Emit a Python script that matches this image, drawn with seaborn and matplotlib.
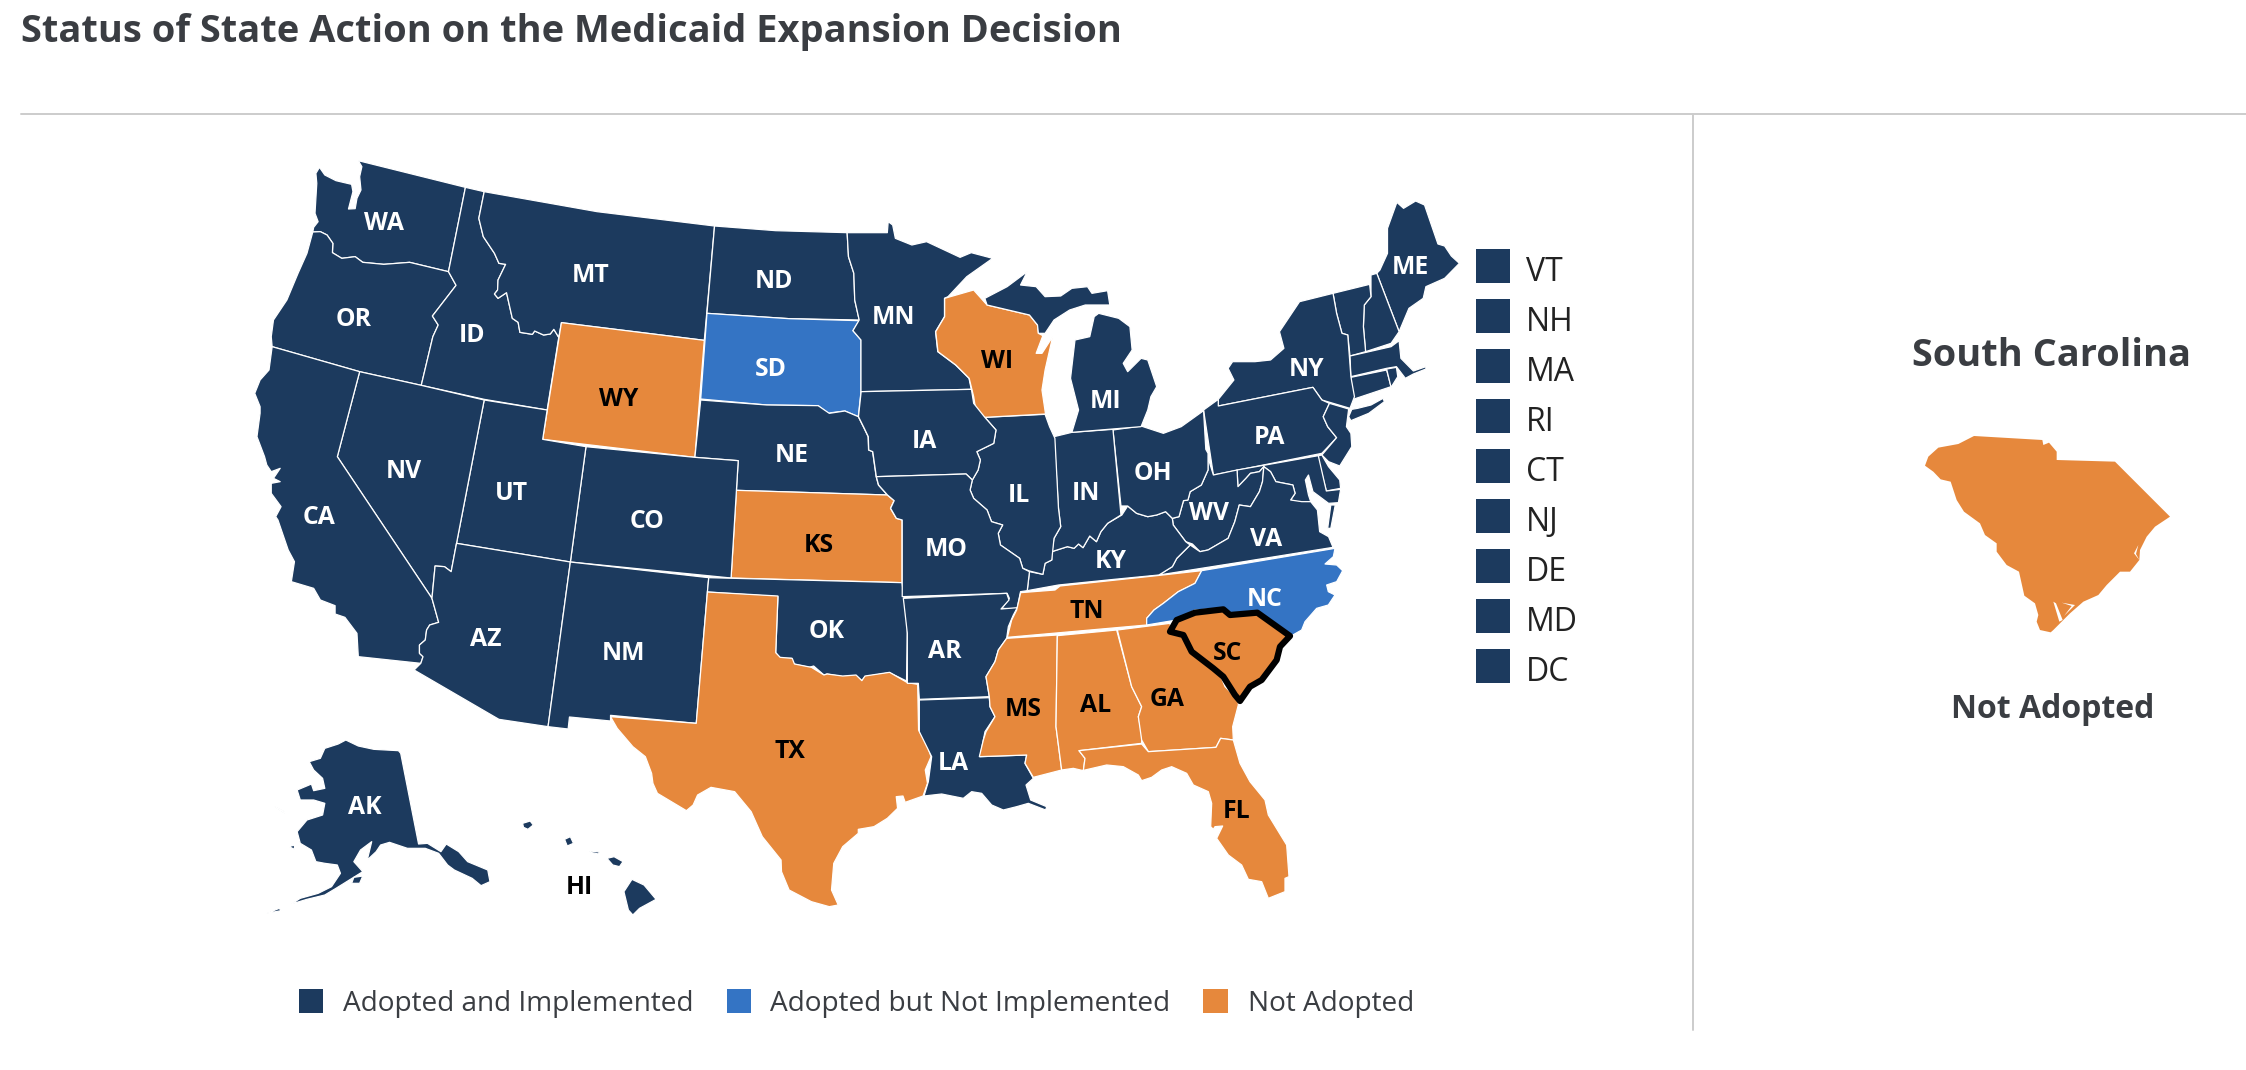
import pandas as pd
import seaborn as sns
import matplotlib.pyplot as plt

# status of each state
not_adopted = ['WY', 'KS', 'TX', 'WI', 'TN', 'MS', 'AL', 'GA', 'SC', 'FL']
not_implemented = ['SD', 'NC']
status_names = ['Adopted and Implemented', 'Adopted but Not Implemented', 'Not Adopted']
status_colors = ['#1c3a5e', '#3474c4', '#e6883c']
small_states = ['VT', 'NH', 'MA', 'RI', 'CT', 'NJ', 'DE', 'MD', 'DC']

# outlines traced by hand, each one in the coordinates of a map region
WA = [(178,112),(190,135),(215,152),(250,163),(253,185),(243,237),(258,236),(262,205),(271,180),(268,140),(273,110),(265,92),(505,172),(467,425),(380,397),(322,403),(275,397),(258,380),(228,385),(207,368),(208,340),(195,315),(180,305),(163,306),(165,292),(175,275),(168,250),(172,160),(170,130)]
OR = [(163,306),(180,305),(195,315),(208,340),(207,368),(228,385),(258,380),(275,397),(322,403),(380,397),(467,425),(484,466),(431,558),(444,585),(432,620),(406,766),(268,725),(72,650),(70,620),(75,570),(105,510),(130,430),(150,370)]
ID = [(505,172),(547,185),(535,265),(545,320),(570,370),(580,400),(595,403),(578,450),(577,480),(570,492),(578,505),(597,488),(610,565),(623,577),(627,607),(655,613),(660,603),(680,615),(695,612),(703,598),(714,622),(688,840),(547,808),(406,766),(432,620),(444,585),(431,558),(484,466),(467,425)]
MT = [(547,185),(800,245),(1063,288),(1040,631),(720,578),(714,622),(703,598),(695,612),(680,615),(660,603),(655,613),(627,607),(623,577),(610,565),(597,488),(578,505),(570,492),(577,480),(578,450),(595,403),(580,400),(570,370),(545,320),(535,265)]
WY = [(720,578),(1040,631),(1019,982),(678,928)]
ND = [(1063,288),(1200,302),(1360,308),(1363,380),(1375,430),(1377,510),(1387,570),(1230,566),(1046,550)]
SD = [(1046,550),(1230,566),(1387,572),(1373,602),(1391,630),(1391,785),(1385,860),(1355,843),(1325,848),(1318,850),(1295,827),(1180,825),(1032,807)]
NE = [(1032,810),(1180,825),(1295,827),(1320,850),(1355,843),(1385,860),(1398,895),(1407,920),(1408,960),(1417,965),(1425,1040),(1430,1065),(1450,1095),(1112,1081),(1116,992),(1019,982)]
KS = [(1112,1081),(1450,1095),(1465,1112),(1457,1135),(1470,1165),(1483,1170),(1483,1358),(1100,1344)]
CO = [(775,950),(1019,982),(1116,992),(1112,1081),(1100,1344),(740,1296)]
UT = [(547,810),(688,840),(678,928),(775,950),(740,1296),(485,1240)]
NV = [(268,725),(406,766),(547,810),(485,1240),(473,1325),(458,1310),(437,1308),(430,1405),(218,980)]
CA = [(72,650),(268,725),(218,980),(430,1405),(445,1477),(425,1485),(418,1500),(415,1530),(402,1545),(402,1570),(410,1580),(405,1600),(265,1580),(262,1510),(235,1462),(213,1452),(213,1427),(180,1410),(165,1375),(115,1355),(122,1295),(108,1260),(85,1170),(80,1160),(92,1130),(70,1090),(70,1060),(90,1055),(75,1045),(90,1015),(70,1025),(60,1005),(55,980),(38,920),(45,850),(45,830),(33,790),(45,750),(65,720)]
AZ = [(430,1405),(437,1308),(458,1310),(473,1325),(485,1240),(740,1296),(690,1790),(580,1768),(390,1620),(405,1600),(410,1580),(402,1570),(402,1545),(415,1530),(418,1500),(425,1485),(445,1477)]
NM = [(740,1296),(1050,1343),(1047,1386),(1022,1780),(830,1756),(830,1773),(738,1761),(735,1797),(690,1790)]
OK = [(1050,1343),(1483,1358),(1487,1400),(1495,1490),(1493,1653),(1455,1628),(1400,1640),(1393,1652),(1380,1637),(1350,1640),(1315,1632),(1308,1635),(1285,1608),(1275,1612),(1240,1602),(1235,1585),(1210,1585),(1200,1568),(1205,1400),(1047,1386)]
MN = [(1360,308),(1450,308),(1452,275),(1462,285),(1468,325),(1505,345),(1538,335),(1613,382),(1638,368),(1686,385),(1628,440),(1586,500),(1578,505),(1578,560),(1558,605),(1563,665),(1603,705),(1633,745),(1638,778),(1391,785),(1391,630),(1373,602),(1387,570),(1377,510),(1375,430),(1363,380)]

TX = [(1047,156),(1205,168),(1200,338),(1210,352),(1237,355),(1242,372),(1280,382),(1308,405),(1315,402),(1350,408),(1380,405),(1393,422),(1400,408),(1455,397),(1495,428),(1518,433),(1520,570),(1538,610),(1548,650),(1535,690),(1540,730),(1530,768),(1490,787),(1485,768),(1470,770),(1473,805),(1450,835),(1420,860),(1385,868),(1385,880),(1350,920),(1330,970),(1325,1050),(1340,1095),(1320,1100),(1280,1085),(1230,1050),(1213,995),(1212,960),(1170,890),(1145,815),(1108,755),(1055,742),(1025,765),(1015,795),(1000,812),(935,760),(925,730),(922,700),(908,650),(880,620),(845,565),(830,530),(1022,550)]
AK = [(237,600),(265,618),(300,628),(355,632),(360,640),(400,912),(420,910),(450,935),(462,912),(490,935),(510,965),(555,990),(560,1025),(540,1037),(520,1015),(480,990),(465,975),(445,940),(415,925),(375,925),(335,907),(315,915),(305,935),(285,960),(295,905),(270,930),(255,965),(275,995),(245,1020),(215,1045),(190,1065),(150,1078),(115,1092),(135,1075),(175,1060),(205,1040),(225,1000),(218,975),(190,970),(170,965),(160,930),(135,910),(128,875),(150,840),(185,825),(190,790),(165,780),(135,780),(128,750),(160,732),(165,752),(190,745),(185,715),(165,690),(155,665),(180,655),(190,625),(220,612)]
AK_KODIAK = [(250,1030),(255,1012),(275,1008),(268,1030)]
AK_ISLE_A = [(110,920),(122,915),(122,928)]
AK_ISLE_B = [(60,1120),(88,1105),(92,1112)]
AK_ISLE_C = [(78,800),(100,815),(100,820)]
HI_BIG = [(878,1018),(905,1035),(932,1078),(895,1105),(880,1125),(870,1110),(860,1055)]
HI_MAUI = [(822,955),(838,950),(858,965),(850,980),(835,975)]
HI_MOLOKAI = [(783,933),(805,936),(803,942),(785,937)]
HI_OAHU = [(727,898),(740,890),(747,910),(733,918)]
HI_KAUAI = [(633,850),(650,843),(657,855),(645,868),(635,862)]

ME = [(1113,97),(1128,115),(1155,93),(1175,105),(1205,222),(1220,228),(1235,258),(1253,280),(1220,325),(1178,350),(1172,385),(1140,415),(1118,485),(1068,310),(1075,300),(1092,250),(1092,175)]
NH = [(1055,315),(1068,310),(1118,485),(1100,520),(1043,545),(1038,470),(1040,405),(1055,380)]
VT = [(970,370),(1052,343),(1055,380),(1040,405),(1038,470),(1043,545),(1008,558),(1003,495),(990,490),(978,430)]
MA = [(1008,558),(1100,530),(1118,512),(1122,565),(1150,603),(1178,590),(1178,597),(1150,612),(1132,625),(1112,590),(1090,595),(1010,620)]
CT = [(1010,622),(1090,600),(1100,650),(1015,688)]
RI = [(1090,597),(1112,592),(1115,620),(1100,652)]
NY = [(895,395),(970,370),(978,430),(990,490),(1003,495),(1010,620),(1018,680),(1008,715),(945,690),(925,652),(713,708),(713,688),(748,630),(735,595),(745,575),(795,575),(830,570),(860,535),(850,485)]
NY_LONG_ISLAND = [(1005,740),(1010,752),(1050,730),(1085,695),(1082,685),(1055,705),(1025,715),(1012,718)]
PA = [(680,720),(713,688),(713,708),(925,652),(945,690),(962,700),(948,740),(958,770),(978,803),(945,850),(702,915)]
NJ = [(962,700),(1005,717),(1000,770),(1010,790),(1012,830),(985,888),(960,875),(945,855),(978,803),(958,770),(948,740)]
DE = [(935,858),(945,855),(960,890),(985,930),(987,955),(955,963)]
MD = [(755,900),(937,857),(955,963),(987,958),(982,998),(960,1000),(945,985),(925,965),(915,915),(908,930),(915,975),(920,995),(895,997),(875,990),(885,970),(880,945),(842,935),(830,905),(815,890),(805,905),(785,910),(775,925),(757,950)]
WV = [(685,838),(695,885),(702,915),(755,900),(757,950),(775,925),(785,910),(805,905),(815,890),(812,935),(805,965),(785,1010),(760,1005),(750,1055),(735,1105),(690,1140),(672,1145),(655,1122),(640,1115),(612,1065),(610,1045),(625,1040),(635,992),(645,990),(650,965),(675,945),(690,900),(690,850)]
VA = [(815,890),(830,905),(842,935),(880,945),(885,970),(875,990),(900,995),(920,995),(935,1020),(940,1085),(960,1100),(970,1132),(770,1175),(580,1215),(610,1190),(620,1165),(650,1125),(672,1145),(690,1140),(735,1105),(750,1055),(760,1005),(785,1010),(805,965),(812,935)]
VA_SHORE = [(958,1075),(965,1005),(975,1005),(965,1075)]
KY = [(510,1008),(530,1030),(555,1040),(575,1035),(595,1025),(610,1045),(612,1065),(640,1115),(650,1125),(620,1165),(610,1190),(580,1215),(480,1228),(355,1245),(285,1262),(290,1205),(320,1213),(325,1180),(340,1170),(340,1145),(375,1130),(390,1135),(400,1122),(410,1133),(425,1098),(440,1115),(450,1085),(465,1060),(497,1035)]
OH = [(477,780),(540,768),(590,790),(630,770),(680,722),(685,838),(690,850),(690,900),(675,945),(650,965),(645,990),(635,992),(625,1040),(610,1045),(595,1025),(575,1035),(555,1040),(530,1030),(510,1008),(495,1008)]
IN = [(345,800),(385,787),(477,778),(495,1035),(465,1060),(450,1085),(440,1115),(425,1098),(410,1133),(400,1122),(390,1135),(375,1130),(340,1145),(345,1105),(360,1070),(355,1015)]
IL = [(190,742),(325,733),(335,770),(347,805),(355,1015),(360,1070),(345,1105),(340,1170),(325,1180),(320,1213),(290,1203),(275,1195),(268,1165),(225,1125),(220,1090),(230,1065),(205,1055),(195,1020),(165,985),(157,960),(162,930),(175,900),(180,870),(172,845),(210,820),(215,780)]
WI = [(100,385),(165,360),(195,405),(290,435),(308,465),(310,490),(320,497),(305,550),(318,550),(342,500),(325,600),(318,660),(326,732),(190,742),(170,722),(165,680),(155,625),(125,585),(85,545),(80,485),(100,440)]
MI_UPPER = [(190,385),(240,350),(285,305),(270,345),(305,350),(325,380),(360,378),(385,355),(420,350),(430,370),(465,362),(470,405),(415,405),(380,420),(345,450),(325,490),(310,490),(308,465),(290,435),(195,405)]
MI_LOWER = [(445,430),(490,445),(515,470),(520,540),(500,580),(510,605),(540,565),(555,570),(575,650),(562,680),(555,720),(540,770),(385,787),(400,720),(382,625),(392,510),(425,500),(435,440)]
IA = [(-87,665),(160,658),(165,700),(190,742),(215,780),(210,820),(172,845),(180,870),(175,900),(162,930),(148,912),(-53,920),(-61,845),(-70,840),(-71,800),(-80,775),(-93,740)]
MO = [(-53,920),(148,912),(162,930),(157,960),(165,985),(195,1020),(205,1055),(230,1065),(220,1090),(225,1125),(268,1165),(275,1195),(290,1205),(285,1262),(270,1265),(262,1317),(228,1315),(245,1285),(240,1270),(5,1280),(5,1050),(-8,1045),(-21,1015),(-13,992),(-28,975),(-48,945)]

AR = [(10,175),(320,160),(327,180),(303,207),(352,203),(340,225),(325,260),(320,295),(295,330),(285,365),(258,410),(268,470),(58,478),(55,430),(22,430),(22,280)]
LA = [(58,480),(268,473),(270,500),(285,530),(255,575),(240,650),(380,645),(375,670),(400,715),(378,735),(392,780),(440,800),(437,810),(385,790),(350,800),(310,810),(275,795),(245,760),(215,755),(190,775),(125,762),(72,768),(85,725),(95,650),(58,575)]
MS = [(320,295),(472,285),(468,560),(485,690),(400,712),(375,670),(380,645),(238,650),(250,600),(258,575),(285,530),(270,500),(268,470),(258,410),(285,365),(295,330)]
TN = [(362,158),(465,150),(480,138),(770,107),(905,92),(885,130),(835,155),(790,190),(762,210),(740,235),(740,255),(322,292),(335,240),(350,210)]
AL = [(472,287),(650,270),(695,440),(725,500),(715,530),(725,580),(725,610),(537,632),(555,655),(550,692),(520,685),(485,690),(468,560)]
GA = [(652,270),(810,250),(815,275),(850,285),(875,335),(945,390),(965,415),(975,440),(1015,480),(1015,495),(998,560),(1000,600),(962,595),(948,622),(745,635),(725,600),(715,530),(725,500),(695,440)]
FL = [(537,632),(725,612),(745,635),(948,622),(962,595),(1000,600),(1020,670),(1050,725),(1095,780),(1105,825),(1160,915),(1167,1010),(1155,1015),(1155,1055),(1105,1075),(1085,1025),(1045,1018),(1025,975),(985,945),(950,895),(968,858),(945,860),(940,868),(932,860),(935,790),(925,755),(880,735),(860,700),(815,680),(785,690),(755,712),(725,722),(715,705),(670,680),(620,675),(555,690),(550,692),(555,655)]
SC = [(810,275),(830,240),(885,218),(970,208),(990,225),(1072,218),(1170,288),(1140,320),(1130,360),(1085,420),(1050,440),(1020,483),(1005,465),(970,410),(940,385),(875,335),(850,285)]
NC = [(905,92),(1305,25),(1300,50),(1275,72),(1310,75),(1328,92),(1310,125),(1280,135),(1285,155),(1305,165),(1285,195),(1250,205),(1215,245),(1205,270),(1175,287),(1072,218),(990,225),(970,205),(885,210),(830,240),(740,255),(740,235),(762,210),(790,190),(835,155),(885,130)]

SC_DETAIL = [(402,378),(607,390),(610,405),(627,398),(650,425),(650,450),(825,455),(990,620),(945,650),(920,680),(900,720),(898,750),(870,785),(840,785),(800,825),(775,855),(730,875),(690,910),(640,960),(632,967),(600,960),(590,935),(595,915),(585,880),(553,857),(537,785),(500,765),(470,725),(470,700),(435,675),(420,640),(372,605),(350,570),(332,515),(302,508),(280,485),(255,467),(265,440),(295,413),(355,402)]
SC_CREEK_A = [(640,875),(648,880),(668,930),(658,935)]
SC_CREEK_B = [(895,705),(882,730),(898,750),(888,732)]
SC_CREEK_C = [(665,878),(705,885),(672,918),(695,888)]

# map regions: x offset, y offset, x scale, y scale
NW = (240, 130, 2.24, 3)
SW = (240, 540, 2.24, 3)
NE_R = (900, 170, 2.24, 3)
SE = (900, 540, 3, 3)
PANEL = (1840, 310, 3, 3)

state_parts = [
    ('WA', WA, NW), ('OR', OR, NW), ('ID', ID, NW), ('MT', MT, NW), ('WY', WY, NW), ('ND', ND, NW),
    ('SD', SD, NW), ('NE', NE, NW), ('KS', KS, NW), ('CO', CO, NW), ('UT', UT, NW), ('NV', NV, NW),
    ('CA', CA, NW), ('AZ', AZ, NW), ('NM', NM, NW), ('OK', OK, NW), ('MN', MN, NW),
    ('TX', TX, SW), ('AK', AK, SW), ('AK', AK_KODIAK, SW), ('AK', AK_ISLE_A, SW), ('AK', AK_ISLE_B, SW),
    ('AK', AK_ISLE_C, SW), ('HI', HI_BIG, SW), ('HI', HI_MAUI, SW), ('HI', HI_MOLOKAI, SW),
    ('HI', HI_OAHU, SW), ('HI', HI_KAUAI, SW),
    ('ME', ME, NE_R), ('NH', NH, NE_R), ('VT', VT, NE_R), ('MA', MA, NE_R), ('CT', CT, NE_R), ('RI', RI, NE_R),
    ('NY', NY, NE_R), ('NY', NY_LONG_ISLAND, NE_R), ('PA', PA, NE_R), ('NJ', NJ, NE_R), ('DE', DE, NE_R),
    ('MD', MD, NE_R), ('WV', WV, NE_R), ('VA', VA, NE_R), ('VA', VA_SHORE, NE_R), ('KY', KY, NE_R),
    ('OH', OH, NE_R), ('IN', IN, NE_R), ('IL', IL, NE_R), ('WI', WI, NE_R), ('MI', MI_UPPER, NE_R),
    ('MI', MI_LOWER, NE_R), ('IA', IA, NE_R), ('MO', MO, NE_R),
    ('AR', AR, SE), ('LA', LA, SE), ('MS', MS, SE), ('TN', TN, SE), ('AL', AL, SE), ('GA', GA, SE),
    ('FL', FL, SE), ('NC', NC, SE), ('SC', SC, SE),
]

label_names = ['WA','OR','ID','MT','ND','SD','WY','NE','KS','CO','UT','NV','CA','MN','IA','AZ','NM','OK','TX','AK','HI',
               'WI','MI','IL','IN','OH','KY','WV','VA','PA','NY','ME','MO','NC','TN','AR','MS','AL','GA','SC','FL','LA']
label_x = [384,354,472,591,774,771,619,792,819,647,511,404,319,893,924,486,624,827,790,365,579,
           997,1106,1019,1086,1153,1111,1209,1266,1269,1307,1410,946,1265,1087,945,1023,1096,1167,1227,1237,953]
label_y = [224,320,336,276,282,369,399,455,546,521,493,472,518,318,441,640,654,632,751,807,888,
           362,402,495,494,473,561,514,539,438,369,268,549,599,612,651,710,705,699,654,811,763]


def to_px(points, region):
    x0, y0, sx, sy = region
    return [x0 + x / sx for x, y in points], [y0 + y / sy for x, y in points]


def status_color(state):
    if state in not_adopted:
        return status_colors[2]
    if state in not_implemented:
        return status_colors[1]
    return status_colors[0]


sns.set_theme(style='white')
plt.rcParams['font.family'] = ['Open Sans', 'DejaVu Sans']
text_color = '#3a3d42'

fig = plt.figure(figsize=(22.46, 10.7), dpi=100)
ax = fig.add_axes([0, 0, 1, 1])
ax.set_xlim(0, 2246)
ax.set_ylim(1070, 0)
ax.axis('off')

# title and panel rules
ax.text(21, 42, 'Status of State Action on the Medicaid Expansion Decision', fontsize=27.4, fontweight='bold',
        color=text_color, ha='left', va='baseline')
ax.plot([21, 2246], [114, 114], color='#cccccc', lw=1.4)
ax.plot([1693, 1693], [114, 1030], color='#cccccc', lw=1.4)

# map
for state, points, region in state_parts:
    xs, ys = to_px(points, region)
    ax.fill(xs, ys, facecolor=status_color(state), edgecolor='white', lw=0.9, joinstyle='round')

xs, ys = to_px(SC, SE)
ax.fill(xs, ys, facecolor='none', edgecolor='black', lw=4.5, joinstyle='round')

for name, x, y in zip(label_names, label_x, label_y):
    dark_text = name in not_adopted or name == 'HI'
    ax.text(x, y, name, fontsize=17.8, fontweight='bold', ha='center', va='center',
            color='black' if dark_text else 'white')

# small states key
small_df = pd.DataFrame({'state': small_states, 'x': [1492.5] * 9, 'y': [265.5 + 50 * i for i in range(9)]})
sns.scatterplot(data=small_df, x='x', y='y', marker='s', s=565, color=status_colors[0], linewidth=0, ax=ax, legend=False)
for state, y in zip(small_df['state'], small_df['y']):
    ax.text(1526, y + 7, state, fontsize=23, color='#222222', ha='left', va='center')

# bottom legend
legend_df = pd.DataFrame({'status': status_names, 'x': [311, 739, 1215.5], 'y': [1001, 1001, 1001]})
sns.scatterplot(data=legend_df, x='x', y='y', hue='status', palette=status_colors, marker='s', s=300,
                linewidth=0, ax=ax, legend=False)
for name, x in zip(status_names, [343, 770, 1248]):
    ax.text(x, 1004, name, fontsize=20.2, color=text_color, ha='left', va='center')

# selected state panel
ax.text(2052, 356, 'South Carolina', fontsize=27.3, fontweight='bold', color=text_color, ha='center', va='center')
xs, ys = to_px(SC_DETAIL, PANEL)
ax.fill(xs, ys, facecolor=status_colors[2], edgecolor='none')
for creek in [SC_CREEK_A, SC_CREEK_B, SC_CREEK_C]:
    xs, ys = to_px(creek, PANEL)
    ax.fill(xs, ys, facecolor='white', edgecolor='none')
ax.text(2053, 710, 'Not Adopted', fontsize=23, fontweight='bold', color=text_color, ha='center', va='center')

ax.set_xlim(0, 2246)
ax.set_ylim(1070, 0)
ax.set_xlabel('')
ax.set_ylabel('')
fig.savefig('out.png', dpi=100, facecolor='white')
